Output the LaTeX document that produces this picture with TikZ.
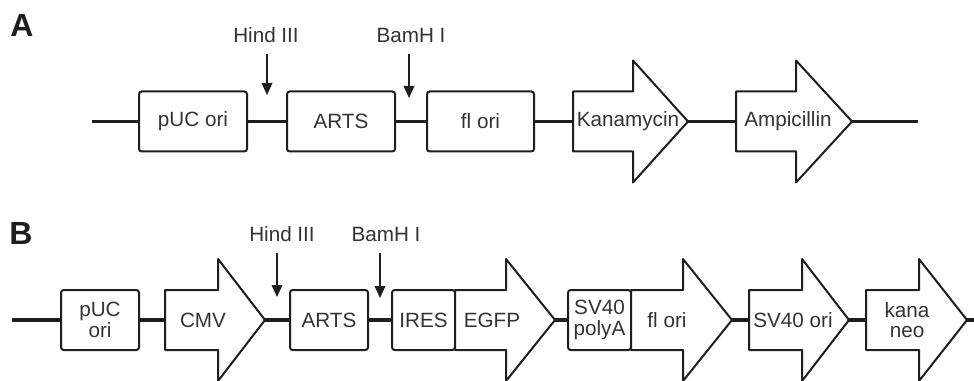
\documentclass[tikz,border=0pt]{standalone}
\usepackage{fontspec}
\setmainfont{Liberation Sans}
\usetikzlibrary{arrows.meta,positioning,calc}
\definecolor{Ink}{HTML}{1E1E1E}
\definecolor{Txt}{HTML}{333333}
\newcommand{\partfont}{\fontsize{15.5}{15.5}\selectfont}
\tikzset{
  backbone/.style={Ink,line width=2.3pt},
  part/.style={draw=Ink,line width=1.5pt,rounded corners=2pt,fill=white,inner sep=0pt,
    font=\partfont,text=Txt,align=center},
  gene/.style={draw=Ink,line width=1.5pt,line join=round,fill=white},
  genelabel/.style={inner sep=0pt,font=\partfont,text=Txt,align=center},
  site/.style={inner sep=0pt,font=\partfont,text=Txt},
  cut/.style={Ink,line width=1.1pt,shorten <=8.5pt,-{Triangle[length=9pt,width=8pt]}},
  panel/.style={inner sep=0pt,font=\fontsize{24}{24}\selectfont\bfseries,text=Ink}
}
\newcommand{\PartBox}[5]{% name, left, right, y, text
  \node[part,minimum width={(#3-#2)*0.75pt},minimum height=45pt] (#1) at ({(#2+#3)/2},#4) {#5};%
}
\newcommand{\GeneArrow}[7]{% name, left, neck, tip, y, text x, text
  \draw[gene] (#2,#5-30) -- (#3,#5-30) -- (#3,#5-61) -- (#4,#5) -- (#3,#5+61) -- (#3,#5+30) -- (#2,#5+30) -- cycle;%
  \coordinate (#1-w) at (#2,#5);%
  \coordinate (#1-e) at (#4,#5);%
  \node[genelabel] (#1) at (#6,#5) {#7};%
}

\begin{document}
\begin{tikzpicture}[x=0.75pt,y=-0.75pt]
\useasboundingbox (0,0) rectangle (974,381);

% panel A
\node[panel] (panelA) at (22,25.5) {A};
\coordinate (startA) at (92,121.5);
\coordinate (endA) at (918,121.5);
\PartBox{pucA}{139}{247}{121.5}{pUC ori}
\PartBox{artsA}{287}{395}{121.5}{ARTS}
\PartBox{floriA}{427}{534}{121.5}{fl ori}
\GeneArrow{kanA}{573}{633}{688}{121.5}{628}{Kanamycin}
\GeneArrow{ampA}{736}{796}{852}{121.5}{788}{Ampicillin}
\draw[backbone] (startA) -- (pucA);
\draw[backbone] (pucA) -- (artsA);
\draw[backbone] (artsA) -- (floriA);
\draw[backbone] (floriA) -- (kanA-w);
\draw[backbone] (kanA-e) -- (ampA-w);
\draw[backbone] (ampA-e) -- (endA);
\node[site] (hindA) at (266,35) {Hind III};
\node[site] (bamA) at (411,35) {BamH I};
\coordinate (cutA1) at (267,95);
\coordinate (cutA2) at (409,98);
\draw[cut] (hindA.south -| cutA1) -- (cutA1);
\draw[cut] (bamA.south -| cutA2) -- (cutA2);

% panel B
\node[panel] (panelB) at (21,233) {B};
\coordinate (startB) at (12,320);
\coordinate (endB) at (974,320);
\PartBox{pucB}{61}{139}{320}{pUC\\ori}
\GeneArrow{cmvB}{165}{218}{265}{320}{203}{CMV}
\PartBox{artsB}{290}{368}{320}{ARTS}
\PartBox{iresB}{392}{455}{320}{IRES}
\GeneArrow{egfpB}{455}{506}{555}{320}{492}{EGFP}
\PartBox{polyaB}{568}{631}{320}{SV40\\polyA}
\GeneArrow{floriB}{631}{683}{732}{320}{667}{fl ori}
\GeneArrow{svoriB}{749}{802}{849}{320}{793}{SV40 ori}
\GeneArrow{kanaB}{866}{919}{967}{320}{907}{kana\\neo}
\draw[backbone] (startB) -- (pucB);
\draw[backbone] (pucB) -- (cmvB-w);
\draw[backbone] (cmvB-e) -- (artsB);
\draw[backbone] (artsB) -- (iresB);
\draw[backbone] (egfpB-e) -- (polyaB);
\draw[backbone] (floriB-e) -- (svoriB-w);
\draw[backbone] (svoriB-e) -- (kanaB-w);
\draw[backbone] (kanaB-e) -- (endB);
\node[site] (hindB) at (282,234) {Hind III};
\node[site] (bamB) at (386,234) {BamH I};
\coordinate (cutB1) at (277,297);
\coordinate (cutB2) at (380,298);
\draw[cut] (hindB.south -| cutB1) -- (cutB1);
\draw[cut] (bamB.south -| cutB2) -- (cutB2);
\end{tikzpicture}
\end{document}
